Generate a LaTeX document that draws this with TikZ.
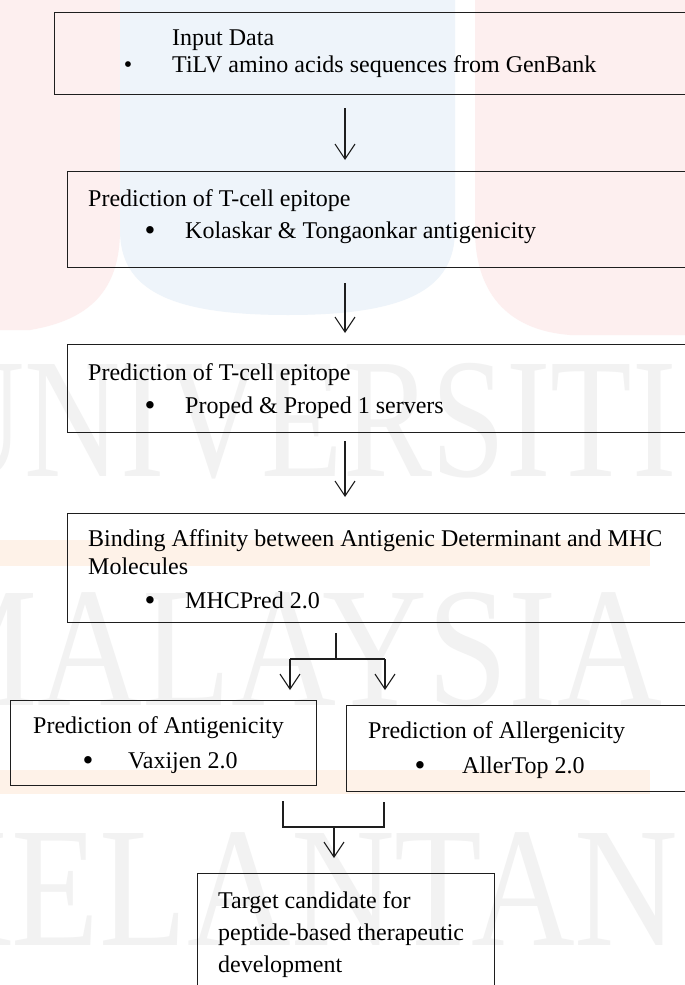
\documentclass[tikz,border=0pt]{standalone}
\usepackage{fontspec}
\setmainfont{Liberation Serif}
\usetikzlibrary{arrows.meta}
\definecolor{wmgray}{RGB}{242,242,242}
\definecolor{wmpink}{RGB}{253,239,239}
\definecolor{wmblue}{RGB}{238,244,250}
\definecolor{wmorange}{RGB}{254,242,232}
\definecolor{linecol}{RGB}{30,30,30}
\begin{document}
\begin{tikzpicture}[x=1pt,y=-1pt,
  box/.style={draw=linecol, line width=1.1pt, rectangle, inner sep=0pt, anchor=north west},
  txt/.style={anchor=base west, inner sep=0pt, font=\fontsize{24}{27}\selectfont},
  bul/.style={anchor=base, inner sep=0pt, font=\fontsize{24}{27}\selectfont},
  bigbul/.style={anchor=base, inner sep=0pt, font=\fontsize{31}{31}\selectfont},
  arr/.style={draw=linecol, line width=1.1pt, -{Straight Barb[length=15pt,width=20pt,line width=1.1pt]}},
  heavy/.style={draw=linecol, line width=2pt},
  wm/.style={anchor=base west, inner sep=0pt, text=wmgray, font=\fontsize{171}{171}\selectfont}
]
\useasboundingbox (0,0) rectangle (685,985);
\clip (0,0) rectangle (685,985);
\fill[white] (0,0) rectangle (685,985);

% ---- faint watermark ----
\fill[wmpink] (0,0) -- (120,0) -- (120,230) .. controls (120,290) and (90,320) .. (30,330) -- (0,330) -- cycle;
\fill[wmblue] (120,0) -- (455,0) -- (455,230) .. controls (455,290) and (405,315) .. (288,315) .. controls (170,315) and (120,290) .. (120,230) -- cycle;
\fill[wmpink] (475,0) -- (685,0) -- (685,335) -- (570,335) .. controls (505,330) and (475,290) .. (475,230) -- cycle;
\fill[wmorange] (0,540) rectangle (650,566);
\fill[wmorange] (0,770) rectangle (650,794);
\node[wm] (w1) at (-72,476) {\scalebox{0.78}[1]{UNIVERSITI}};
\node[wm] (w2) at (-92,705) {\scalebox{0.85}[1]{MALAYSIA}};
\node[wm] (w3) at (-92,945) {\scalebox{0.84}[1]{KELANTAN}};

% ---- boxes ----
\node[box, minimum width=720pt, minimum height=82pt] (b1) at (54,12) {};
\node[box, minimum width=720pt, minimum height=96pt] (b2) at (67,171) {};
\node[box, minimum width=720pt, minimum height=88pt] (b3) at (67,344) {};
\node[box, minimum width=720pt, minimum height=109pt] (b4) at (67,513) {};
\node[box, minimum width=306pt, minimum height=85pt] (b5) at (10,700) {};
\node[box, minimum width=400pt, minimum height=86pt] (b6) at (346,705) {};
\node[box, minimum width=297pt, minimum height=140pt] (b7) at (197,873) {};

% ---- texts ----
\node[txt] (t1a) at (172,45) {Input Data};
\node[bul] (t1b) at (128,72) {•};
\node[txt] (t1c) at (172,72) {TiLV amino acids sequences from GenBank};

\node[txt] (t2a) at (88,206) {Prediction of T-cell epitope};
\node[bigbul] (t2b) at (150,240) {•};
\node[txt] (t2c) at (185,238) {Kolaskar \& Tongaonkar antigenicity};

\node[txt] (t3a) at (88,380) {Prediction of T-cell epitope};
\node[bigbul] (t3b) at (150,415) {•};
\node[txt] (t3c) at (185,413) {Proped \& Proped 1 servers};

\node[txt] (t4a) at (88,546) {Binding Affinity between Antigenic Determinant and MHC};
\node[txt] (t4b) at (88,574) {Molecules};
\node[bigbul] (t4c) at (150,610) {•};
\node[txt] (t4d) at (185,608) {MHCPred 2.0};

\node[txt] (t5a) at (33,733) {Prediction of Antigenicity};
\node[bigbul] (t5b) at (88,770) {•};
\node[txt] (t5c) at (128,768) {Vaxijen 2.0};

\node[txt] (t6a) at (368,738) {Prediction of Allergenicity};
\node[bigbul] (t6b) at (420,775) {•};
\node[txt] (t6c) at (462,773) {AllerTop 2.0};

\node[txt] (t7a) at (218,908) {Target candidate for};
\node[txt] (t7b) at (218,940) {peptide-based therapeutic};
\node[txt] (t7c) at (218,972) {development};

% ---- connectors ----
\coordinate (a1s) at (345,108); \coordinate (a1e) at (345,160);
\coordinate (a2s) at (345,283); \coordinate (a2e) at (345,333);
\coordinate (a3s) at (345,441); \coordinate (a3e) at (345,497);
\draw[arr] (a1s) -- (a1e);
\draw[arr] (a2s) -- (a2e);
\draw[arr] (a3s) -- (a3e);

\coordinate (s1) at (336,633); \coordinate (s2) at (336,659);
\coordinate (hl) at (290,659); \coordinate (hr) at (385,659);
\coordinate (hle) at (290,690); \coordinate (hre) at (385,690);
\draw[heavy] (s1) -- (s2);
\draw[heavy] (hl) -- (hr);
\draw[arr] (hl) -- (hle);
\draw[arr] (hr) -- (hre);

\coordinate (m1) at (283,801); \coordinate (m2) at (283,827);
\coordinate (m3) at (384,802); \coordinate (m4) at (384,827);
\coordinate (mc) at (334,827); \coordinate (me) at (334,858);
\draw[heavy] (m1) -- (m2) -- (m4) -- (m3);
\draw[arr] (mc) -- (me);
\end{tikzpicture}
\end{document}
